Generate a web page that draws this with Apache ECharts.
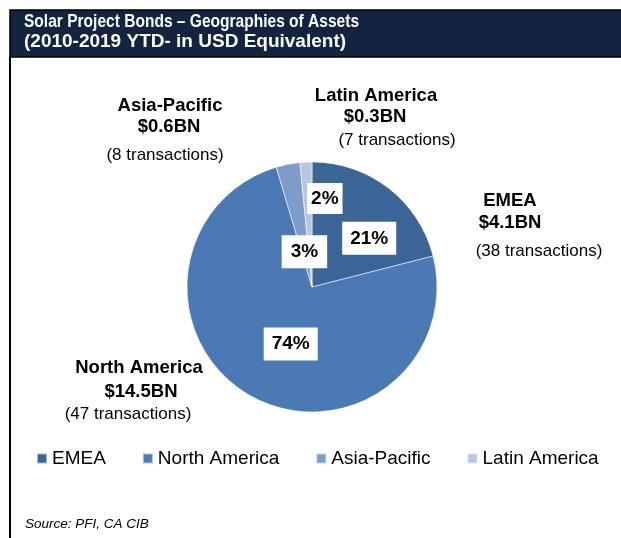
<!DOCTYPE html>
<html>
<head>
<meta charset="utf-8">
<script src="https://cdn.jsdelivr.net/npm/echarts@6/dist/echarts.min.js"></script>
<style>
html,body{margin:0;padding:0;background:#fff;}
#chart{width:621px;height:538px;}
</style>
</head>
<body>
<div id="chart"></div>
<script>
// ---- data ----
const regions = ['EMEA', 'North America', 'Asia-Pacific', 'Latin America'];
const valuesBN = [4.1, 14.5, 0.6, 0.3];
const pctLabels = ['21%', '74%', '3%', '2%'];
const transactions = [38, 47, 8, 7];
const valueLabels = ['$4.1BN', '$14.5BN', '$0.6BN', '$0.3BN'];
const titleLines = ['Solar Project Bonds \u2013 Geographies of Assets', '(2010-2019 YTD- in USD Equivalent)'];
const sourceText = 'Source: PFI, CA CIB';

// ---- styles / layout (not data) ----
const colors = ['#3b6497', '#4a79b4', '#7e9cca', '#b7c6e1'];
const insideShift = [[17, 3], [11, 0], [5, 29], [16, -23]];
const labelPad = [[7, 8], [7, 8], [7, 9], [6, 4]];
// outside text blocks: [nameX, nameY, valueX, valueY, transX, transY]
const outside = [
  [510, 201, 510, 223, 539, 251],
  [139, 368, 141, 392, 128, 414],
  [170, 106, 169, 127, 165, 155],
  [376, 96, 375, 117, 397, 140]
];
const FONT = '"Liberation Sans", Arial, Helvetica, sans-serif';

const chart = echarts.init(document.getElementById('chart'), null, {renderer: 'canvas'});

const pieData = regions.map((r, i) => ({
  name: r,
  value: valuesBN[i],
  itemStyle: {color: colors[i]},
  label: {padding: labelPad[i]}
}));

const graphics = [
  {type: 'rect', shape: {x: 10, y: 10, width: 620, height: 47},
   style: {fill: '#12243f', stroke: '#000', lineWidth: 1.5}, z: 10},
  {type: 'rect', shape: {x: 9, y: 56, width: 2, height: 490},
   style: {fill: '#000'}, z: 10},
  {type: 'text', x: 24, y: 22, scaleX: 0.84,
   style: {text: titleLines[0], x: 0, y: 0, fill: '#fff',
    font: 'bold 18.5px ' + FONT, verticalAlign: 'middle'}, z: 11},
  {type: 'text', x: 24, y: 42,
   style: {text: titleLines[1], x: 0, y: 0, fill: '#fff',
    font: 'bold 19px ' + FONT, verticalAlign: 'middle'}, z: 11},
  {type: 'text', style: {text: sourceText, x: 25, y: 524, fill: '#000',
    font: 'italic 13.5px ' + FONT, verticalAlign: 'middle'}, z: 11}
];
regions.forEach((r, i) => {
  const p = outside[i];
  graphics.push({type: 'text', style: {text: r, x: p[0], y: p[1], fill: '#000',
    font: 'bold 18.5px ' + FONT, align: 'center', verticalAlign: 'middle'}, z: 11});
  graphics.push({type: 'text', style: {text: valueLabels[i], x: p[2], y: p[3], fill: '#000',
    font: 'bold 18.5px ' + FONT, align: 'center', verticalAlign: 'middle'}, z: 11});
  graphics.push({type: 'text', style: {text: '(' + transactions[i] + ' transactions)', x: p[4], y: p[5], fill: '#000',
    font: '17px ' + FONT, align: 'center', verticalAlign: 'middle'}, z: 11});
});

chart.setOption({
  animation: false,
  backgroundColor: '#fff',
  legend: {
    data: regions,
    left: 31,
    top: 444,
    itemWidth: 10,
    itemHeight: 10,
    itemGap: 36,
    icon: 'rect',
    textStyle: {fontFamily: FONT, fontSize: 19, color: '#000'}
  },
  graphic: graphics,
  series: [{
    type: 'pie',
    center: [312, 287],
    radius: 125,
    startAngle: 90,
    clockwise: true,
    data: pieData,
    itemStyle: {borderColor: 'rgba(255,255,255,0.55)', borderWidth: 1},
    emphasis: {disabled: true},
    label: {
      show: true,
      position: 'inside',
      formatter: p => pctLabels[p.dataIndex],
      backgroundColor: '#fff',
      color: '#000',
      fontFamily: FONT,
      fontWeight: 'bold',
      fontSize: 19
    },
    labelLine: {show: false},
    labelLayout: p => ({dx: insideShift[p.dataIndex][0], dy: insideShift[p.dataIndex][1]})
  }]
});
</script>
</body>
</html>
